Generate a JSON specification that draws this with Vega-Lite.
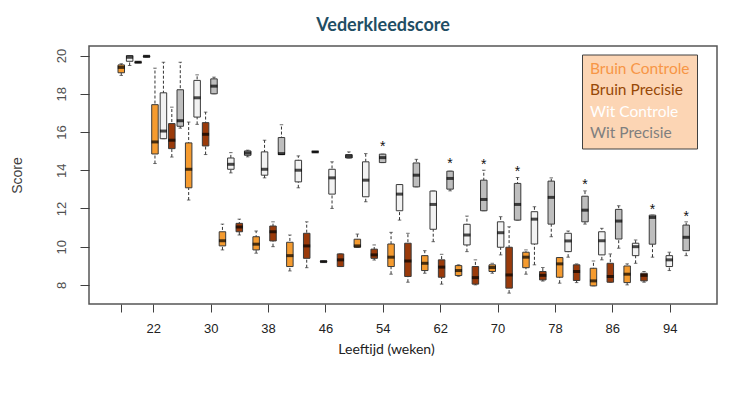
{
  "$schema": "https://vega.github.io/schema/vega-lite/v6.json",
  "width": 628,
  "height": 258,
  "autosize": {"type": "none"},
  "padding": {"left": 89, "top": 46, "right": 21, "bottom": 92},
  "background": "white",
  "title": {"text": "Vederkleedscore", "font": "Lato", "fontSize": 18, "fontWeight": "bold", "color": "#1F4E64", "anchor": "middle", "frame": "group", "dx": -20, "offset": -3, "baseline": "alphabetic"},
  "config": {"view": {"stroke": "#555555", "strokeWidth": 1.5}},
  "datasets": {
    "boxes": [
      {"p": 17.53, "g": "Bruin Controle", "lo": 18.96, "q1": 19.10, "md": 19.38, "q3": 19.51, "hi": 19.57},
      {"p": 18.70, "g": "Wit Controle", "lo": 19.48, "q1": 19.70, "md": 19.91, "q3": 20.0, "hi": 20.0},
      {"p": 19.88, "g": "Bruin Precisie", "lo": 19.63, "q1": 19.63, "md": 19.65, "q3": 19.67, "hi": 19.67},
      {"p": 21.06, "g": "Wit Precisie", "lo": 19.93, "q1": 19.93, "md": 19.96, "q3": 19.98, "hi": 19.98},
      {"p": 22.23, "g": "Bruin Controle", "lo": 14.35, "q1": 14.85, "md": 15.48, "q3": 17.43, "hi": 19.34},
      {"p": 23.41, "g": "Wit Controle", "lo": 15.65, "q1": 15.65, "md": 16.05, "q3": 18.05, "hi": 19.65},
      {"p": 24.58, "g": "Bruin Precisie", "lo": 14.69, "q1": 15.13, "md": 15.57, "q3": 16.44, "hi": 17.30},
      {"p": 25.76, "g": "Wit Precisie", "lo": 16.2, "q1": 16.30, "md": 16.59, "q3": 18.21, "hi": 19.65},
      {"p": 26.93, "g": "Bruin Controle", "lo": 12.44, "q1": 13.08, "md": 14.05, "q3": 15.43, "hi": 16.52},
      {"p": 28.11, "g": "Wit Controle", "lo": 16.40, "q1": 16.78, "md": 17.79, "q3": 18.70, "hi": 18.99},
      {"p": 29.29, "g": "Bruin Precisie", "lo": 14.82, "q1": 15.27, "md": 15.88, "q3": 16.49, "hi": 17.04},
      {"p": 30.46, "g": "Wit Precisie", "lo": 18.0, "q1": 18.0, "md": 18.40, "q3": 18.78, "hi": 18.87},
      {"p": 31.64, "g": "Bruin Controle", "lo": 9.83, "q1": 10.04, "md": 10.31, "q3": 10.78, "hi": 11.18},
      {"p": 32.81, "g": "Wit Controle", "lo": 13.86, "q1": 14.05, "md": 14.31, "q3": 14.64, "hi": 14.92},
      {"p": 33.99, "g": "Bruin Precisie", "lo": 10.61, "q1": 10.78, "md": 11.03, "q3": 11.22, "hi": 11.44},
      {"p": 35.16, "g": "Wit Precisie", "lo": 14.70, "q1": 14.78, "md": 14.90, "q3": 15.01, "hi": 15.05},
      {"p": 36.34, "g": "Bruin Controle", "lo": 9.66, "q1": 9.83, "md": 10.13, "q3": 10.52, "hi": 10.82},
      {"p": 37.51, "g": "Wit Controle", "lo": 13.60, "q1": 13.74, "md": 14.05, "q3": 14.96, "hi": 15.57},
      {"p": 38.69, "g": "Bruin Precisie", "lo": 10.0, "q1": 10.30, "md": 10.78, "q3": 11.08, "hi": 11.30},
      {"p": 39.87, "g": "Wit Precisie", "lo": 14.82, "q1": 14.82, "md": 14.87, "q3": 15.71, "hi": 16.38},
      {"p": 41.04, "g": "Bruin Controle", "lo": 8.73, "q1": 8.96, "md": 9.53, "q3": 10.23, "hi": 10.61},
      {"p": 42.22, "g": "Wit Controle", "lo": 13.08, "q1": 13.39, "md": 14.0, "q3": 14.52, "hi": 14.75},
      {"p": 43.39, "g": "Bruin Precisie", "lo": 8.90, "q1": 9.39, "md": 10.04, "q3": 10.70, "hi": 11.30},
      {"p": 44.57, "g": "Wit Precisie", "lo": 14.94, "q1": 14.94, "md": 14.96, "q3": 14.98, "hi": 14.98},
      {"p": 45.74, "g": "Bruin Controle", "lo": 9.20, "q1": 9.20, "md": 9.22, "q3": 9.24, "hi": 9.24},
      {"p": 46.92, "g": "Wit Controle", "lo": 12.0, "q1": 12.75, "md": 13.60, "q3": 14.05, "hi": 14.44},
      {"p": 48.10, "g": "Bruin Precisie", "lo": 8.96, "q1": 8.96, "md": 9.31, "q3": 9.62, "hi": 9.62},
      {"p": 49.27, "g": "Wit Precisie", "lo": 14.64, "q1": 14.64, "md": 14.73, "q3": 14.82, "hi": 14.96},
      {"p": 50.45, "g": "Bruin Controle", "lo": 9.97, "q1": 9.97, "md": 10.04, "q3": 10.39, "hi": 10.66},
      {"p": 51.62, "g": "Wit Controle", "lo": 12.35, "q1": 12.61, "md": 13.48, "q3": 14.44, "hi": 14.87},
      {"p": 52.80, "g": "Bruin Precisie", "lo": 9.30, "q1": 9.39, "md": 9.57, "q3": 9.87, "hi": 10.09},
      {"p": 53.97, "g": "Wit Precisie", "lo": 14.40, "q1": 14.40, "md": 14.66, "q3": 14.84, "hi": 14.84},
      {"p": 55.15, "g": "Bruin Controle", "lo": 8.56, "q1": 8.96, "md": 9.45, "q3": 10.14, "hi": 10.75},
      {"p": 56.33, "g": "Wit Controle", "lo": 11.39, "q1": 11.88, "md": 12.75, "q3": 13.25, "hi": 13.25},
      {"p": 57.50, "g": "Bruin Precisie", "lo": 8.14, "q1": 8.44, "md": 9.25, "q3": 10.18, "hi": 10.70},
      {"p": 58.68, "g": "Wit Precisie", "lo": 13.13, "q1": 13.13, "md": 13.74, "q3": 14.38, "hi": 14.57},
      {"p": 59.85, "g": "Bruin Controle", "lo": 8.61, "q1": 8.75, "md": 9.13, "q3": 9.53, "hi": 9.79},
      {"p": 61.03, "g": "Wit Controle", "lo": 10.26, "q1": 10.91, "md": 12.21, "q3": 12.91, "hi": 12.91},
      {"p": 62.20, "g": "Bruin Precisie", "lo": 8.04, "q1": 8.40, "md": 8.93, "q3": 9.31, "hi": 9.60},
      {"p": 63.38, "g": "Wit Precisie", "lo": 12.92, "q1": 13.01, "md": 13.57, "q3": 13.95, "hi": 13.95},
      {"p": 64.56, "g": "Bruin Controle", "lo": 8.45, "q1": 8.49, "md": 8.75, "q3": 9.01, "hi": 9.05},
      {"p": 65.73, "g": "Wit Controle", "lo": 9.74, "q1": 10.09, "md": 10.61, "q3": 11.17, "hi": 11.60},
      {"p": 66.91, "g": "Bruin Precisie", "lo": 8.0, "q1": 8.04, "md": 8.38, "q3": 8.96, "hi": 9.31},
      {"p": 68.08, "g": "Wit Precisie", "lo": 11.88, "q1": 11.88, "md": 12.47, "q3": 13.48, "hi": 14.0},
      {"p": 69.26, "g": "Bruin Controle", "lo": 8.61, "q1": 8.70, "md": 8.91, "q3": 9.05, "hi": 9.13},
      {"p": 70.43, "g": "Wit Controle", "lo": 9.57, "q1": 9.97, "md": 10.73, "q3": 11.30, "hi": 11.57},
      {"p": 71.61, "g": "Bruin Precisie", "lo": 7.57, "q1": 7.83, "md": 8.52, "q3": 9.97, "hi": 11.04},
      {"p": 72.79, "g": "Wit Precisie", "lo": 11.39, "q1": 11.39, "md": 12.21, "q3": 13.31, "hi": 13.62},
      {"p": 73.96, "g": "Bruin Controle", "lo": 8.56, "q1": 8.90, "md": 9.45, "q3": 9.71, "hi": 9.83},
      {"p": 75.14, "g": "Wit Controle", "lo": 9.05, "q1": 10.14, "md": 11.44, "q3": 11.83, "hi": 12.09},
      {"p": 76.31, "g": "Bruin Precisie", "lo": 8.2, "q1": 8.26, "md": 8.50, "q3": 8.70, "hi": 8.91},
      {"p": 77.49, "g": "Wit Precisie", "lo": 10.52, "q1": 11.18, "md": 12.58, "q3": 13.43, "hi": 13.60},
      {"p": 78.66, "g": "Bruin Controle", "lo": 8.09, "q1": 8.40, "md": 9.10, "q3": 9.43, "hi": 9.43},
      {"p": 79.84, "g": "Wit Controle", "lo": 9.45, "q1": 9.74, "md": 10.30, "q3": 10.70, "hi": 10.82},
      {"p": 81.02, "g": "Bruin Precisie", "lo": 8.12, "q1": 8.23, "md": 8.70, "q3": 9.05, "hi": 9.10},
      {"p": 82.19, "g": "Wit Precisie", "lo": 11.18, "q1": 11.30, "md": 11.91, "q3": 12.64, "hi": 12.92},
      {"p": 83.37, "g": "Bruin Controle", "lo": 7.95, "q1": 7.95, "md": 8.21, "q3": 8.87, "hi": 9.25},
      {"p": 84.54, "g": "Wit Controle", "lo": 9.31, "q1": 9.57, "md": 10.31, "q3": 10.78, "hi": 10.96},
      {"p": 85.72, "g": "Bruin Precisie", "lo": 8.14, "q1": 8.14, "md": 8.44, "q3": 9.13, "hi": 9.62},
      {"p": 86.89, "g": "Wit Precisie", "lo": 9.92, "q1": 10.40, "md": 11.34, "q3": 11.95, "hi": 12.14},
      {"p": 88.07, "g": "Bruin Controle", "lo": 8.0, "q1": 8.12, "md": 8.56, "q3": 8.99, "hi": 9.10},
      {"p": 89.25, "g": "Wit Controle", "lo": 9.13, "q1": 9.53, "md": 10.0, "q3": 10.18, "hi": 10.35},
      {"p": 90.42, "g": "Bruin Precisie", "lo": 8.14, "q1": 8.21, "md": 8.50, "q3": 8.61, "hi": 8.70},
      {"p": 91.60, "g": "Wit Precisie", "lo": 9.45, "q1": 10.13, "md": 11.53, "q3": 11.65, "hi": 11.65},
      {"p": 93.95, "g": "Wit Controle", "lo": 8.75, "q1": 8.96, "md": 9.31, "q3": 9.53, "hi": 9.71},
      {"p": 96.30, "g": "Wit Precisie", "lo": 9.53, "q1": 9.79, "md": 10.49, "q3": 11.13, "hi": 11.30}
    ],
    "stars": [
      {"p": 53.97, "s": 15.39},
      {"p": 63.38, "s": 14.47},
      {"p": 68.08, "s": 14.43},
      {"p": 72.79, "s": 14.04},
      {"p": 82.19, "s": 13.39},
      {"p": 91.60, "s": 12.06},
      {"p": 96.30, "s": 11.71}
    ]
  },
  "layer": [
    {
      "data": {"name": "boxes"},
      "mark": {"type": "rule", "strokeDash": [3, 2], "color": "#333333", "strokeWidth": 1},
      "encoding": {
        "x": {"field": "p", "type": "quantitative", "title": "Leeftijd (weken)",
          "scale": {"domain": [13.73, 99.9], "nice": false, "zero": false},
          "axis": {"values": [17.53, 18.57, 22, 26, 30, 34, 38, 42, 46, 50, 54, 58, 62, 66, 70, 74, 78, 82, 86, 90, 94, 98],
            "labelExpr": "(datum.value - 22) % 8 == 0 && datum.value >= 22 && datum.value <= 94 ? datum.label : ''",
            "domain": false, "grid": false, "tickSize": 8, "tickColor": "#404040", "tickWidth": 1,
            "labelFont": "Liberation Sans", "labelFontSize": 13, "labelColor": "#222222", "labelPadding": 10,
            "labelOverlap": false, "labelFlush": false, "labelBound": false,
            "titleFont": "Lato", "titleFontSize": 14, "titleFontWeight": "normal", "titleColor": "#222222",
            "titleX": 297, "titleY": 49, "titleAlign": "center", "titleBaseline": "alphabetic"}},
        "y": {"field": "lo", "type": "quantitative", "title": "Score",
          "scale": {"domain": [7.0, 20.5], "nice": false, "zero": false},
          "axis": {"values": [8, 10, 12, 14, 16, 18, 20], "domain": false, "grid": false,
            "tickSize": 9, "tickColor": "#404040", "tickWidth": 1,
            "labelAngle": 270, "labelAlign": "center", "labelBaseline": "bottom", "labelPadding": 12,
            "labelFont": "Liberation Sans", "labelFontSize": 13, "labelColor": "#505050",
            "titleFont": "Liberation Sans", "titleFontSize": 14, "titleFontWeight": "normal", "titleColor": "#404040",
            "titleX": -72, "titleY": 129, "titleAngle": 270, "titleAlign": "center", "titleBaseline": "middle"}},
        "y2": {"field": "hi"}
      }
    },
    {
      "data": {"name": "boxes"},
      "mark": {"type": "tick", "orient": "horizontal", "size": 3.5, "thickness": 1, "color": "#333333"},
      "encoding": {
        "x": {"field": "p", "type": "quantitative", "title": "Leeftijd (weken)"},
        "y": {"field": "hi", "type": "quantitative", "title": "Score"}
      }
    },
    {
      "data": {"name": "boxes"},
      "mark": {"type": "tick", "orient": "horizontal", "size": 3.5, "thickness": 1, "color": "#333333"},
      "encoding": {
        "x": {"field": "p", "type": "quantitative", "title": "Leeftijd (weken)"},
        "y": {"field": "lo", "type": "quantitative", "title": "Score"}
      }
    },
    {
      "data": {"name": "boxes"},
      "mark": {"type": "bar", "size": 6.5, "stroke": "#3A3A3A", "strokeWidth": 1},
      "encoding": {
        "x": {"field": "p", "type": "quantitative", "title": "Leeftijd (weken)"},
        "y": {"field": "q1", "type": "quantitative", "title": "Score"},
        "y2": {"field": "q3"},
        "fill": {"field": "g", "type": "nominal",
          "scale": {"domain": ["Bruin Controle", "Bruin Precisie", "Wit Controle", "Wit Precisie"],
                    "range": ["#F59B2F", "#9A3A0A", "#F2F2F2", "#BEBEBE"]},
          "legend": {"orient": "none", "legendX": 493, "legendY": 8.5, "title": null,
            "fillColor": "#FCD5B4", "strokeColor": "#404040",
            "padding": 6.5, "symbolSize": 0, "symbolStrokeWidth": 0, "symbolOpacity": 0,
            "labelOffset": -14, "labelFont": "Lato", "labelFontSize": 15.5, "labelLimit": 200, "rowPadding": 4.5,
            "labelColor": {"expr": "datum.label === 'Bruin Controle' ? '#F79646' : datum.label === 'Bruin Precisie' ? '#974806' : datum.label === 'Wit Controle' ? '#FFFFFF' : '#7F7F7F'"}}
        }
      }
    },
    {
      "data": {"name": "boxes"},
      "mark": {"type": "tick", "orient": "horizontal", "size": 7, "thickness": 3, "color": "#000000"},
      "encoding": {
        "x": {"field": "p", "type": "quantitative", "title": "Leeftijd (weken)"},
        "y": {"field": "md", "type": "quantitative", "title": "Score"}
      }
    },
    {
      "data": {"name": "stars"},
      "mark": {"type": "text", "text": "*", "font": "Liberation Sans", "fontSize": 14, "baseline": "middle", "dy": 3, "color": "#111111"},
      "encoding": {
        "x": {"field": "p", "type": "quantitative", "title": "Leeftijd (weken)"},
        "y": {"field": "s", "type": "quantitative", "title": "Score"}
      }
    }
  ]
}
